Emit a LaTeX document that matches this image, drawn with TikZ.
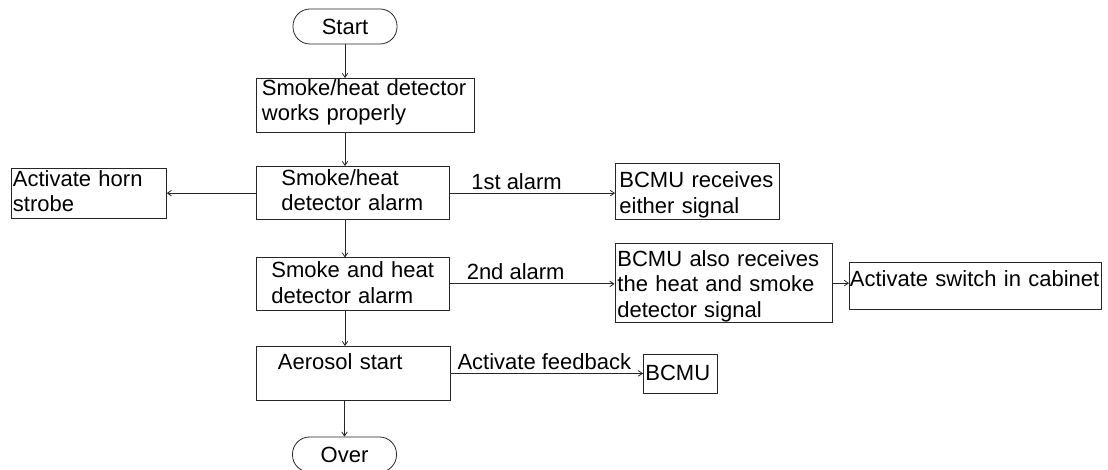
\documentclass[tikz,border=0pt]{standalone}
\usepackage{fontspec}
\setmainfont{Liberation Sans}
\usetikzlibrary{arrows.meta}

\begin{document}
\begin{tikzpicture}[x=1pt, y=-1pt, line width=0.8pt,
    every node/.style={font=\fontsize{22}{25.5}\selectfont},
    box/.style={draw=black!85, anchor=north west, align=left, inner ysep=0pt},
    term/.style={draw=black!85, rounded corners=17pt, minimum width=104pt, minimum height=35pt, inner sep=0pt},
    flow/.style={draw=black!85, -{Straight Barb[length=4pt, width=5.5pt]}},
    tag/.style={above, inner sep=4pt, outer sep=0pt, text depth=0pt}]
    \useasboundingbox (0,0) rectangle (1108,470);

    \node[term] (start) at (345,26.5) {Start};
    \node[box, text width=206pt, inner xsep=6pt, text height=17pt, text depth=37pt] (detect) at (255.5,78) {Smoke/heat detector\\works properly};
    \node[box, text width=143pt, inner xsep=25pt, text height=19pt, text depth=34.5pt] (alarmone) at (256,166) {Smoke/heat\\detector alarm};
    \node[box, text width=152pt, inner xsep=1.5pt, text height=17.5pt, text depth=32.5pt] (horn) at (11,168.5) {Activate horn\\strobe};
    \node[box, text width=156pt, inner xsep=4pt, text height=24pt, text depth=31.5pt] (either) at (615,163.5) {BCMU receives\\either signal};
    \node[box, text width=163pt, inner xsep=15pt, text height=20pt, text depth=32pt] (alarmtwo) at (256,257.5) {Smoke and heat\\detector alarm};
    \node[box, text width=212.5pt, inner xsep=2.5pt, text height=22.5pt, text depth=56pt] (both) at (614.5,243.5) {BCMU also receives\\the heat and smoke\\detector signal};
    \node[box, text width=251pt, inner xsep=0.5pt, text height=24pt, text depth=22.5pt] (switch) at (849,262) {Activate switch in cabinet};
    \node[box, text width=150pt, inner xsep=22pt, text height=23pt, text depth=31pt] (aerosol) at (255.5,346) {Aerosol start};
    \node[box, text width=70pt, inner xsep=2pt, text height=26.5pt, text depth=13pt] (bcmu) at (643,353.5) {BCMU};
    \node[term] (over) at (344.5,454.5) {Over};

    \draw[flow] (start) -- (start |- detect.north);
    \draw[flow] (detect.south -| start) -- (start |- alarmone.north);
    \draw[flow] (alarmone.west) -- (horn.east |- alarmone.west);
    \draw[flow] (alarmone.east) -- node[tag, pos=0.404] (first) {1st alarm} (either.west |- alarmone.east);
    \draw[flow] (alarmone.south -| start) -- (start |- alarmtwo.north);
    \draw[flow] (alarmtwo.east) -- node[tag, pos=0.40] (second) {2nd alarm} (both.west |- alarmtwo.east);
    \draw[flow] (both.east) -- (switch.west |- both.east);
    \draw[flow] (alarmtwo.south -| start) -- (start |- aerosol.north);
    \draw[flow] (aerosol.east) -- node[tag, pos=0.488] (feedback) {Activate feedback} (bcmu.west |- aerosol.east);
    \draw[flow] (aerosol.south -| over) -- (over);
\end{tikzpicture}
\end{document}
